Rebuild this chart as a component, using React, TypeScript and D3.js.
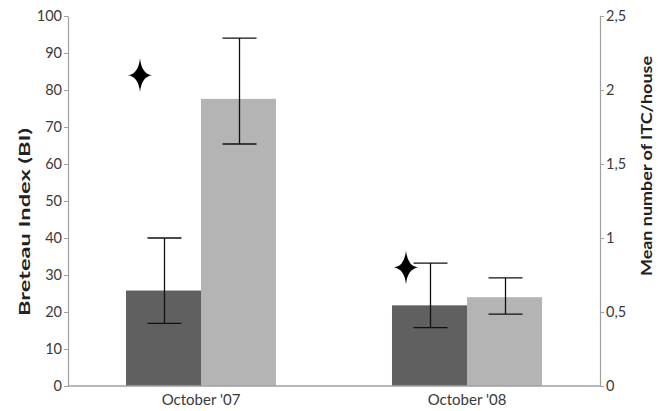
import React, { useEffect, useRef } from 'react';
import * as d3 from 'd3';

// values
const categories = ["October '07", "October '08"];
const biValues = [25.8, 21.8]; // Breteau Index, left axis
const biErrLow = [16.9, 15.8];
const biErrHigh = [40, 33.2];
const itcValues = [1.94, 0.6]; // mean ITC/house, right axis
const itcErrLow = [1.635, 0.485];
const itcErrHigh = [2.35, 0.73];
const starBI = [84, 32]; // significance stars, on the BI scale
const leftTicks = [0, 10, 20, 30, 40, 50, 60, 70, 80, 90, 100];
const rightTicks = [0, 0.5, 1, 1.5, 2, 2.5];

const W = 665;
const H = 411;

export default function App() {
  const ref = useRef<SVGSVGElement>(null);

  useEffect(() => {
    const svg = d3.select(ref.current);
    svg.selectAll('*').remove();

    const left = 68, right = 600, top = 16, bottom = 386;
    const font = 'Lato, "Open Sans", sans-serif';
    const axisColor = '#a0a0a0';
    const textColor = '#3a3a3a';

    const x = d3.scaleBand().domain(categories).range([left, right])
      .paddingInner(0.436).paddingOuter(0.218);
    const sub = d3.scaleBand().domain(['bi', 'itc']).range([0, x.bandwidth()]);
    const yL = d3.scaleLinear().domain([0, 100]).range([bottom, top]);
    const yR = d3.scaleLinear().domain([0, 2.5]).range([bottom, top]);

    const rows = categories.map((c, i) => ({
      c, bi: biValues[i], biLo: biErrLow[i], biHi: biErrHigh[i],
      itc: itcValues[i], itcLo: itcErrLow[i], itcHi: itcErrHigh[i], star: starBI[i],
    }));

    const g = svg.append('g');

    // bars
    g.selectAll('rect.bi').data(rows).enter().append('rect')
      .attr('x', d => x(d.c)! + sub('bi')!)
      .attr('y', d => yL(d.bi))
      .attr('width', sub.bandwidth())
      .attr('height', d => bottom - yL(d.bi))
      .attr('fill', '#606060');
    g.selectAll('rect.itc').data(rows).enter().append('rect')
      .attr('x', d => x(d.c)! + sub('itc')!)
      .attr('y', d => yR(d.itc))
      .attr('width', sub.bandwidth())
      .attr('height', d => bottom - yR(d.itc))
      .attr('fill', '#b4b4b4');

    // error bars
    const cap = 17;
    const errs = [
      ...rows.map(d => ({ cx: x(d.c)! + sub('bi')! + sub.bandwidth() / 2 + 1, lo: yL(d.biLo), hi: yL(d.biHi) })),
      ...rows.map(d => ({ cx: x(d.c)! + sub('itc')! + sub.bandwidth() / 2 + 1, lo: yR(d.itcLo), hi: yR(d.itcHi) })),
    ];
    errs.forEach(e => {
      const p = d3.path();
      p.moveTo(e.cx, e.lo); p.lineTo(e.cx, e.hi);
      p.moveTo(e.cx - cap, e.hi); p.lineTo(e.cx + cap, e.hi);
      p.moveTo(e.cx - cap, e.lo); p.lineTo(e.cx + cap, e.lo);
      g.append('path').attr('d', p.toString()).attr('stroke', '#111')
        .attr('stroke-width', 1.3).attr('fill', 'none');
    });

    // stars
    const star = (cx: number, cy: number) => {
      const p = d3.path();
      const w = 12, h = 17, k = 1.5;
      p.moveTo(cx, cy - h);
      p.quadraticCurveTo(cx + k, cy - k, cx + w, cy);
      p.quadraticCurveTo(cx + k, cy + k, cx, cy + h);
      p.quadraticCurveTo(cx - k, cy + k, cx - w, cy);
      p.quadraticCurveTo(cx - k, cy - k, cx, cy - h);
      p.closePath();
      return p.toString();
    };
    rows.forEach(d => {
      g.append('path')
        .attr('d', star(x(d.c)! + sub('bi')! + 14, yL(d.star)))
        .attr('fill', '#000');
    });

    // x axis
    const xa = svg.append('g').attr('transform', `translate(0,${bottom})`)
      .call(d3.axisBottom(x).tickSize(0).tickPadding(8));
    xa.select('.domain').attr('stroke', axisColor).attr('stroke-width', 1.5)
      .attr('d', `M${left},0H${right}`);
    xa.selectAll('text').attr('font-family', font).attr('font-size', 15).attr('fill', textColor);

    // left axis
    const la = svg.append('g').attr('transform', `translate(${left},0)`)
      .call(d3.axisLeft(yL).tickValues(leftTicks).tickSize(4).tickSizeOuter(0).tickPadding(2));
    la.select('.domain').attr('stroke', axisColor).attr('stroke-width', 1.2);
    la.selectAll('line').attr('stroke', axisColor);
    la.selectAll('text').attr('font-family', font).attr('font-size', 14.5).attr('fill', textColor);

    // right axis
    const ra = svg.append('g').attr('transform', `translate(${right},0)`)
      .call(d3.axisRight(yR).tickValues(rightTicks).tickSize(4).tickSizeOuter(0).tickPadding(2)
        .tickFormat(d => String(d).replace('.', ',')));
    ra.select('.domain').attr('stroke', axisColor).attr('stroke-width', 1.2);
    ra.selectAll('line').attr('stroke', axisColor);
    ra.selectAll('text').attr('font-family', font).attr('font-size', 14.5).attr('fill', textColor);

    // axis titles
    svg.append('text').attr('transform', 'translate(30,222) rotate(-90)')
      .attr('text-anchor', 'middle').attr('font-family', font).attr('font-size', 15)
      .attr('textLength', 188).attr('lengthAdjust', 'spacingAndGlyphs')
      .attr('font-weight', 'bold').attr('fill', '#222').text('Breteau Index (BI)');
    svg.append('text').attr('transform', 'translate(652,166) rotate(-90)')
      .attr('text-anchor', 'middle').attr('font-family', font).attr('font-size', 15)
      .attr('textLength', 220).attr('lengthAdjust', 'spacingAndGlyphs')
      .attr('font-weight', 'bold').attr('fill', '#222').text('Mean number of ITC/house');
  }, []);

  return (
    <svg ref={ref} width={W} height={H}
      style={{ position: 'absolute', left: 0, top: 0, background: '#fff' }} />
  );
}
